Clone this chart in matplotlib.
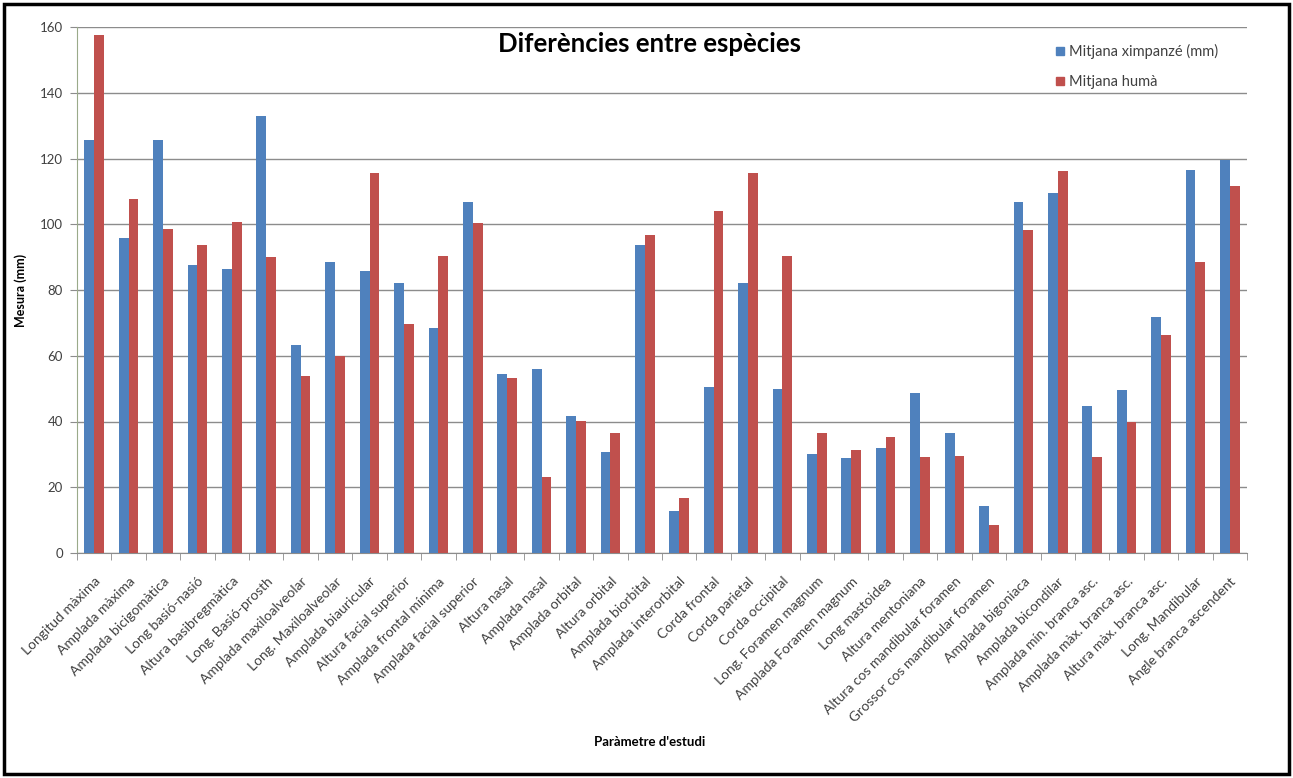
import matplotlib
matplotlib.use("Agg")
import matplotlib.pyplot as plt
import numpy as np
from matplotlib.patches import Rectangle, Patch

plt.rcParams['font.family'] = ['Lato', 'DejaVu Sans']

categories = [
    "Longitud màxima", "Amplada màxima", "Amplada bicigomàtica", "Long basió-nasió",
    "Altura basibregmàtica", "Long. Basió-prosth", "Amplada maxiloalveolar",
    "Long. Maxiloalveolar", "Amplada biauricular", "Altura facial superior",
    "Amplada frontal mínima", "Amplada facial superior", "Altura nasal", "Amplada nasal",
    "Amplada orbital", "Altura orbital", "Amplada biorbital", "Amplada interorbital",
    "Corda frontal", "Corda parietal", "Corda occipital", "Long. Foramen magnum",
    "Amplada Foramen magnum", "Long mastoidea", "Altura mentoniana",
    "Altura cos mandibular foramen", "Grossor cos mandibular foramen", "Amplada bigoniaca",
    "Amplada bicondilar", "Amplada mín. branca asc.", "Amplada màx. branca asc.",
    "Altura màx. branca asc.", "Long. Mandibular", "Angle branca ascendent",
]

ximpanze = [125.5, 95.8, 125.7, 87.5, 86.3, 132.8, 63.2, 88.4, 85.8, 82.0,
            68.3, 106.8, 54.6, 56.1, 41.6, 30.7, 93.8, 12.9, 50.6, 82.0,
            50.0, 30.1, 28.8, 32.0, 48.7, 36.4, 14.4, 106.8, 109.6, 44.8,
            49.5, 71.8, 116.6, 119.6]

huma = [157.6, 107.8, 98.7, 93.6, 100.7, 89.9, 53.8, 59.9, 115.7, 69.6,
        90.3, 100.4, 53.1, 23.2, 40.1, 36.6, 96.7, 16.6, 104.0, 115.6,
        90.3, 36.6, 31.3, 35.4, 29.3, 29.6, 8.5, 98.4, 116.2, 29.1,
        39.7, 66.3, 88.5, 111.6]

series_names = ["Mitjana ximpanzé (mm)", "Mitjana humà"]
yticks = [0, 20, 40, 60, 80, 100, 120, 140, 160]

BLUE = "#4F81BD"
RED = "#C0504D"

W, H = 1293, 778
fig = plt.figure(figsize=(W / 100, H / 100), dpi=100)
fig.patch.set_facecolor("white")

left, right, top, bottom = 77, 1247, 27, 553
ax = fig.add_axes([left / W, 1 - bottom / H, (right - left) / W, (bottom - top) / H])

x = np.arange(len(categories))
bw = 0.285
ax.bar(x - bw / 2, ximpanze, width=bw, color=BLUE, label=series_names[0], zorder=3)
ax.bar(x + bw / 2, huma, width=bw, color=RED, label=series_names[1], zorder=3)

ax.set_xlim(-0.5, len(categories) - 0.5)
ax.set_ylim(0, 160)
ax.set_yticks(yticks)
ax.set_yticklabels([str(v) for v in yticks], fontsize=9.5, color="#404040")
ax.yaxis.grid(True, color="#8C8C8C", linewidth=1.0, zorder=0)
ax.set_axisbelow(True)

ax.set_xticks(x)
ax.set_xticklabels(categories, rotation=45, ha="right", rotation_mode="anchor",
                   fontsize=10, color="#404040")
ax.tick_params(axis="x", which="major", length=0, pad=16)
ax.set_xticks(np.arange(len(categories) + 1) - 0.5, minor=True)
ax.tick_params(axis="x", which="minor", length=5, color="#8C8C8C", direction="out")
ax.tick_params(axis="y", length=5, color="#8C8C8C", direction="out", pad=5)

for s in ["top", "right"]:
    ax.spines[s].set_visible(False)
ax.spines["left"].set_color("#9AAA8A")
ax.spines["bottom"].set_color("#8C8C8C")

ax.set_ylabel("Mesura (mm)", fontsize=9, fontweight="bold", labelpad=9)
fig.text(650 / W, 1 - 742 / H, "Paràmetre d'estudi", fontsize=9.5, fontweight="bold",
         ha="center", va="center")
fig.text(650 / W, 1 - 44 / H, "Diferències entre espècies", fontsize=18.5, fontweight="bold",
         ha="center", va="center")

handles = [Patch(color=BLUE), Patch(color=RED)]
fig.legend(handles, series_names, loc="upper left", bbox_to_anchor=(1043 / W, 1 - 31 / H),
           frameon=False, fontsize=10.5, handlelength=0.55, handleheight=0.55,
           handletextpad=0.3, labelspacing=1.1, labelcolor="#404040")

fig.add_artist(Rectangle((4 / W, 4 / H), (W - 8) / W, (H - 8) / H, transform=fig.transFigure,
                         fill=False, edgecolor="black", linewidth=2.5))

fig.savefig("out.png", dpi=100, facecolor="white")
